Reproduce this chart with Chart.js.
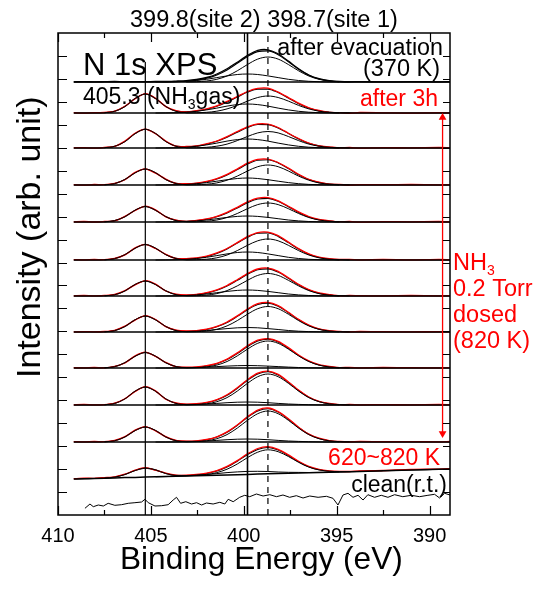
<!DOCTYPE html>
<html>
<head>
<meta charset="utf-8">
<script src="https://cdn.jsdelivr.net/npm/chart.js@4.4.1/dist/chart.umd.min.js"></script>
<style>
  html, body { margin: 0; padding: 0; background: #fff; }
  #wrap { width: 539px; height: 589px; }
</style>
</head>
<body>
<div id="wrap"><canvas id="xpsChart" width="539" height="589"></canvas></div>
<script>
// binding energy grid (eV) shared by the measured spectra and the fit envelope
const energies = [409.15, 408.6, 408.05, 407.5, 406.95, 406.4, 405.85, 405.3, 404.75, 404.2, 403.65,
  403.1, 402.55, 402, 401.45, 400.9, 400.35, 399.8, 399.25, 398.7, 398.15, 397.6, 397.05, 396.5,
  395.95, 395.4, 394.85, 394.3, 393.75, 392.5, 391, 389.5, 388.9];
const gasEnergies = [407.5, 406.95, 406.4, 405.85, 405.3, 404.75, 404.2, 403.65, 403.1];
const site2Energies = [404.75, 404.2, 403.65, 403.1, 402.55, 402, 401.45, 400.9, 400.35, 399.8,
  399.25, 398.7, 398.15, 397.6, 397.05, 396.5, 395.95, 395.4, 394.85];
const site1Energies = [403.1, 402.55, 402, 401.45, 400.9, 400.35, 399.8, 399.25, 398.7, 398.15,
  397.6, 397.05, 396.5, 395.95, 395.4, 394.85, 394.3];

const spectrumLabels = ['after evacuation (370 K)', 'after 3h', 'dose 2', 'dose 3', 'dose 4', 'dose 5',
  'dose 6', 'dose 7', 'dose 8', 'dose 9', 'dose 10', '620~820 K'];
// stacking offset (background level) of each spectrum, arb. unit
const backgroundLevels = [433, 402, 367, 330, 293, 255, 219, 183, 147, 110, 73, null];
// the 620~820 K spectrum sits on a sloped background
const tiltedBackground = [36.0, 36.3, 36.5, 36.8, 37.1, 37.4, 37.6, 37.9, 38.2, 38.4, 38.7, 39.0, 39.3,
  39.5, 39.8, 40.1, 40.3, 40.6, 40.9, 41.2, 41.4, 41.7, 42.0, 42.2, 42.5, 42.8, 43.1, 43.3, 43.6, 44.2,
  45.0, 45.7, 46.0];

// measured intensity above background, on the energies grid
const measured = [
  [0.2, 0.4, 0.1, 0.3, 0.5, 0.2, 0.4, 0.3, 0.6, 0.5, 0.9, 1.4, 2.5, 4.5, 8.0, 13.2, 19.8, 26.6, 31.6, 32.2, 28.2, 20.9, 13.2, 7.0, 3.3, 1.4, 0.5, 0.2, 0.4, 0.1, 0.3, 0.2, 0.4],
  [0.3, -0.2, 0.4, 0.5, 1.9, 6.8, 14.2, 19.3, 14.8, 6.4, 2.3, 1.0, 2.3, 4.2, 7.2, 11.6, 16.5, 21.5, 24.6, 24.8, 20.9, 15.4, 9.8, 5.2, 2.5, 0.6, 0.4, -0.3, 0.5, 0.2, -0.2, 0.3, 0.1],
  [0.2, 0.4, -0.2, 0.6, 1.6, 6.9, 14.8, 18.8, 14.3, 6.9, 1.8, 1.5, 2.1, 4.3, 7.0, 11.4, 16.5, 21.2, 24.1, 23.9, 20.5, 14.8, 9.5, 5.0, 2.0, 1.1, 0.1, 0.5, -0.1, 0.4, 0.1, 0.5, 0.2],
  [0.3, -0.1, 0.5, 0.4, 1.7, 5.3, 12.6, 16.2, 11.8, 5.9, 1.5, 1.3, 1.9, 3.6, 6.4, 10.6, 16.0, 21.8, 25.6, 25.9, 22.5, 16.9, 10.8, 5.6, 2.8, 0.8, 0.6, -0.2, 0.4, 0.3, 0.6, 0.2, 0.4],
  [0.1, 0.5, 0.0, 0.5, 1.2, 5.6, 11.5, 15.8, 12.1, 5.2, 1.9, 0.6, 1.6, 3.1, 5.7, 9.6, 14.7, 20.1, 23.8, 24.4, 21.2, 15.8, 10.1, 5.4, 2.5, 1.2, 0.3, 0.5, -0.1, 0.4, 0.2, 0.5, 0.1],
  [0.4, 0.1, 0.5, 0.3, 1.6, 5.1, 12.1, 15.6, 11.5, 5.7, 1.5, 1.4, 2.0, 3.9, 7.1, 11.5, 17.4, 23.3, 27.4, 27.8, 24.3, 17.9, 11.4, 6.1, 2.9, 1.3, 0.5, 0.6, 0.2, 0.5, 0.1, 0.6, 0.3],
  [0.2, 0.5, 0.1, 0.6, 1.5, 5.4, 11.2, 15.3, 11.9, 5.0, 1.8, 1.1, 1.7, 3.3, 6.2, 10.5, 16.3, 22.4, 27.0, 27.9, 24.6, 18.2, 11.6, 6.3, 3.0, 1.4, 0.2, 0.6, 0.3, 0.1, 0.5, 0.2, 0.4],
  [0.1, 0.4, 0.2, 0.5, 1.7, 5.8, 11.9, 16.3, 12.5, 5.3, 1.9, 1.0, 1.4, 2.9, 5.6, 10.0, 16.1, 23.0, 28.3, 29.6, 26.4, 19.8, 12.6, 6.9, 3.2, 1.3, 0.6, 0.2, 0.5, 0.3, 0.1, 0.4, 0.2],
  [0.3, 0.1, 0.5, 0.2, 1.6, 5.0, 12.1, 15.8, 11.6, 5.6, 1.3, 0.8, 1.1, 2.4, 4.7, 8.9, 15.1, 22.2, 27.8, 29.4, 26.6, 20.4, 12.9, 7.1, 3.3, 1.5, 0.4, 0.6, 0.2, 0.5, 0.3, 0.1, 0.4],
  [0.2, 0.6, 0.1, 0.4, 1.9, 6.3, 13.5, 18.4, 14.1, 5.8, 2.0, 0.9, 1.3, 2.6, 5.3, 10.2, 17.2, 25.3, 31.8, 33.9, 30.6, 23.1, 14.9, 8.0, 3.6, 1.5, 0.3, 0.6, 0.2, 0.4, 0.1, 0.5, 0.3],
  [0.4, 0.1, 0.5, 0.3, 1.5, 5.3, 11.8, 15.4, 11.2, 5.4, 1.6, 0.9, 1.2, 2.5, 5.2, 10.1, 17.0, 25.2, 31.9, 34.0, 30.4, 23.3, 14.8, 7.9, 3.8, 1.4, 0.5, 0.2, 0.6, 0.3, 0.4, 0.2, 0.5],
  [0.3, 0.5, 0.2, 0.6, 1.1, 3.4, 7.2, 9.4, 6.6, 3.4, 1.2, 0.8, 1.2, 2.4, 4.6, 8.5, 14.1, 20.6, 25.6, 27.1, 24.2, 18.4, 11.7, 6.4, 3.1, 1.4, 0.6, 0.2, 0.5, 0.3, 0.6, 0.2, 0.4]
];

// fitted components above background: NH3 gas (405.3), site 2 (399.8), site 1 (398.7)
const gasComponent = [
  [],
  [0.3, 1.7, 6.5, 14.5, 19, 14.5, 6.5, 1.7, 0.3],
  [0.3, 1.7, 6.4, 14.4, 18.8, 14.5, 6.5, 1.7, 0.3],
  [0.2, 1.4, 5.5, 12.2, 16, 12.2, 5.5, 1.4, 0.2],
  [0.2, 1.4, 5.3, 11.8, 15.5, 11.8, 5.3, 1.4, 0.2],
  [0.2, 1.4, 5.3, 11.8, 15.5, 11.8, 5.3, 1.4, 0.2],
  [0.2, 1.3, 5.1, 11.5, 15, 11.5, 5.1, 1.3, 0.2],
  [0.2, 1.4, 5.5, 12.2, 16, 12.2, 5.5, 1.4, 0.2],
  [0.2, 1.4, 5.3, 11.8, 15.5, 11.8, 5.3, 1.4, 0.2],
  [0.2, 1.6, 6.1, 13.8, 18, 13.8, 6.1, 1.6, 0.2],
  [0.2, 1.3, 5.1, 11.5, 15, 11.5, 5.1, 1.3, 0.2],
  [0.1, 0.8, 3.1, 6.9, 9, 6.9, 3.1, 0.8, 0.1]
];
const site2Component = [
  [0, 0.1, 0.3, 0.7, 1.5, 2.7, 4.4, 6.1, 7.5, 8, 7.5, 6.1, 4.4, 2.7, 1.5, 0.7, 0.3, 0.1, 0],
  [0, 0.1, 0.3, 0.8, 1.7, 3.1, 4.9, 6.9, 8.4, 9, 8.4, 6.9, 4.9, 3.1, 1.7, 0.8, 0.3, 0.1, 0],
  [0, 0.1, 0.3, 0.8, 1.7, 3.1, 4.9, 6.9, 8.4, 9, 8.4, 6.9, 4.9, 3.1, 1.7, 0.8, 0.3, 0.1, 0],
  [0, 0.1, 0.3, 0.6, 1.3, 2.4, 3.8, 5.3, 6.5, 7, 6.5, 5.3, 3.8, 2.4, 1.3, 0.6, 0.3, 0.1, 0],
  [0, 0.1, 0.2, 0.5, 1.1, 2, 3.3, 4.6, 5.6, 6, 5.6, 4.6, 3.3, 2, 1.1, 0.5, 0.2, 0.1, 0],
  [0, 0.1, 0.3, 0.7, 1.5, 2.7, 4.4, 6.1, 7.5, 8, 7.5, 6.1, 4.4, 2.7, 1.5, 0.7, 0.3, 0.1, 0],
  [0, 0.1, 0.2, 0.5, 1.1, 2, 3.3, 4.6, 5.6, 6, 5.6, 4.6, 3.3, 2, 1.1, 0.5, 0.2, 0.1, 0],
  [0, 0.1, 0.2, 0.4, 0.8, 1.5, 2.5, 3.4, 4.2, 4.5, 4.2, 3.4, 2.5, 1.5, 0.8, 0.4, 0.2, 0.1, 0],
  [0, 0, 0.1, 0.2, 0.5, 0.9, 1.4, 1.9, 2.3, 2.5, 2.3, 1.9, 1.4, 0.9, 0.5, 0.2, 0.1, 0, 0],
  [0, 0, 0.1, 0.3, 0.6, 1, 1.6, 2.3, 2.8, 3, 2.8, 2.3, 1.6, 1, 0.6, 0.3, 0.1, 0, 0],
  [0, 0, 0.1, 0.3, 0.6, 1, 1.6, 2.3, 2.8, 3, 2.8, 2.3, 1.6, 1, 0.6, 0.3, 0.1, 0, 0],
  [0, 0, 0.1, 0.3, 0.6, 1, 1.6, 2.3, 2.8, 3, 2.8, 2.3, 1.6, 1, 0.6, 0.3, 0.1, 0, 0]
];
const site1Component = [
  [0.1, 0.3, 1, 2.7, 6, 11.2, 17.5, 22.9, 25, 22.9, 17.5, 11.2, 6, 2.7, 1, 0.3, 0.1],
  [0.1, 0.2, 0.7, 1.8, 4.1, 7.6, 11.9, 15.5, 17, 15.5, 11.9, 7.6, 4.1, 1.8, 0.7, 0.2, 0.1],
  [0.1, 0.2, 0.7, 1.8, 3.9, 7.4, 11.5, 15.1, 16.5, 15.1, 11.5, 7.4, 3.9, 1.8, 0.7, 0.2, 0.1],
  [0.1, 0.3, 0.8, 2.1, 4.8, 8.9, 14, 18.3, 20, 18.3, 14, 8.9, 4.8, 2.1, 0.8, 0.3, 0.1],
  [0.1, 0.2, 0.8, 2, 4.5, 8.5, 13.3, 17.4, 19, 17.4, 13.3, 8.5, 4.5, 2, 0.8, 0.2, 0.1],
  [0.1, 0.3, 0.8, 2.2, 5, 9.4, 14.7, 19.2, 21, 19.2, 14.7, 9.4, 5, 2.2, 0.8, 0.3, 0.1],
  [0.1, 0.3, 0.9, 2.4, 5.4, 10.1, 15.7, 20.6, 22.5, 20.6, 15.7, 10.1, 5.4, 2.4, 0.9, 0.3, 0.1],
  [0.1, 0.3, 1, 2.7, 6.1, 11.4, 17.8, 23.3, 25.5, 23.3, 17.8, 11.4, 6.1, 2.7, 1, 0.3, 0.1],
  [0.1, 0.3, 1.1, 2.9, 6.5, 12.1, 18.9, 24.7, 27, 24.7, 18.9, 12.1, 6.5, 2.9, 1.1, 0.3, 0.1],
  [0.1, 0.4, 1.2, 3.3, 7.4, 13.9, 21.7, 28.3, 31, 28.3, 21.7, 13.9, 7.4, 3.3, 1.2, 0.4, 0.1],
  [0.1, 0.4, 1.2, 3.3, 7.4, 13.9, 21.7, 28.3, 31, 28.3, 21.7, 13.9, 7.4, 3.3, 1.2, 0.4, 0.1],
  [0.1, 0.3, 1, 2.6, 5.7, 10.7, 16.8, 21.9, 24, 21.9, 16.8, 10.7, 5.7, 2.6, 1, 0.3, 0.1]
];

// clean surface at room temperature (absolute level)
const cleanEnergies = [408.55, 408.28, 408.1, 407.83, 407.56, 407.3, 406.94, 406.58, 406.22, 405.86,
  405.5, 405.32, 405.14, 404.78, 404.42, 404.07, 403.8, 403.62, 403.4, 403.12, 402.81, 402.54, 402.27,
  402.01, 401.65, 401.29, 401.02, 400.84, 400.57, 400.22, 399.95, 399.68, 399.32, 398.96, 398.6, 398.24,
  397.89, 397.53, 397.17, 396.81, 396.45, 396, 395.55, 395.2, 394.93, 394.66, 394.39, 394.12, 393.85,
  393.58, 393.32, 392.96, 392.6, 392.24, 391.88, 391.44, 390.98, 390.54, 390.09, 389.73, 389.46, 389.19, 388.9];
const cleanCounts = [6.7, 11, 8.3, 10, 9, 11.7, 9.7, 10.3, 11.7, 12.3, 13, 15.7, 12.3, 9, 9.3, 10.3, 15,
  17.7, 11.7, 13.3, 11, 12.3, 10, 12, 11, 12.7, 11, 15.7, 13.3, 17.7, 19.7, 18.3, 21, 19, 20.3, 18.3, 20,
  17.7, 19.3, 17, 19, 17.7, 18.7, 16.7, 10, 20, 21.7, 17.7, 19.7, 15, 20.3, 17.7, 19.7, 17.7, 20.3, 18.3,
  19.7, 18.3, 19.7, 20.7, 17, 21.7, 20];

// reference peak positions and how far up each marker line reaches
const markerEnergies = [405.3, 399.8, 398.7];
const markerTops = [453, 482, 482];
// dosing-sequence arrow
const arrowEnergy = 389.3;
const arrowEnds = [397.5, 81.5];

const xTickValues = [390, 395, 400, 405, 410];
const xMinorTickValues = [392.5, 397.5, 402.5, 407.5];
const yTickStep = 22.95;

const FONT = '"Liberation Sans", Arial, Helvetica, sans-serif';
const RED = 'rgb(255,0,0)';
Chart.defaults.font.family = FONT;

const datasets = [];

markerEnergies.forEach((e, i) => {
  datasets.push({
    label: 'marker ' + e,
    data: [{ x: e, y: 0 }, { x: e, y: markerTops[i] }],
    borderColor: '#000',
    borderWidth: i === 1 ? 1.6 : 1.2,
    borderDash: i === 2 ? [6, 5] : [],
    pointRadius: 0,
    order: 0
  });
});

spectrumLabels.forEach((label, t) => {
  const bgAt = e => backgroundLevels[t] === null ? tiltedBackground[energies.indexOf(e)] : backgroundLevels[t];
  const lineColor = t === 0 ? '#000' : RED;

  datasets.push({
    label: label + ' background',
    data: energies.map(e => ({ x: e, y: bgAt(e) })),
    borderColor: '#000', borderWidth: 1.5, pointRadius: 0, order: 1
  });

  // fit envelope = background + all components
  const envelope = energies.map(e => {
    const g = gasEnergies.indexOf(e), s2 = site2Energies.indexOf(e), s1 = site1Energies.indexOf(e);
    let v = bgAt(e);
    if (g >= 0 && gasComponent[t].length) v += gasComponent[t][g];
    if (s2 >= 0) v += site2Component[t][s2];
    if (s1 >= 0) v += site1Component[t][s1];
    return { x: e, y: v };
  });
  datasets.push({
    label: label + ' fit',
    data: envelope,
    borderColor: '#000', borderWidth: 1.1, pointRadius: 0,
    cubicInterpolationMode: 'monotone', order: 3
  });

  datasets.push({
    label: label,
    data: energies.map((e, i) => ({ x: e, y: bgAt(e) + measured[t][i] })),
    borderColor: lineColor, borderWidth: 1.3, pointRadius: 0, tension: 0.25, order: 2
  });

  const comps = [[gasEnergies, gasComponent[t]], [site2Energies, site2Component[t]], [site1Energies, site1Component[t]]];
  comps.forEach(([xs, ys]) => {
    if (!ys.length) return;
    datasets.push({
      label: label + ' component',
      data: xs.map((e, k) => ({ x: e, y: bgAt(e) + ys[k] })),
      borderColor: '#000', borderWidth: 1, pointRadius: 0,
      cubicInterpolationMode: 'monotone', order: 1
    });
  });
});

datasets.push({
  label: 'clean(r.t.)',
  data: cleanEnergies.map((e, i) => ({ x: e, y: cleanCounts[i] })),
  borderColor: '#000', borderWidth: 1, pointRadius: 0, tension: 0, order: 1
});

datasets.push({
  label: 'dosing arrow',
  data: arrowEnds.map(v => ({ x: arrowEnergy, y: v })),
  borderColor: RED, borderWidth: 1.3,
  pointStyle: 'triangle', pointRadius: 4.5, pointRotation: [0, 180],
  pointBackgroundColor: RED, pointBorderColor: RED, pointBorderWidth: 0,
  order: 0
});

// frame, inward ticks and the annotation texts
const frameAndLabels = {
  id: 'frameAndLabels',
  afterDatasetsDraw(chart) {
    const { ctx, chartArea: { left, right, top, bottom }, scales: { x, y } } = chart;
    ctx.save();
    ctx.strokeStyle = '#000';
    ctx.lineWidth = 1.2;
    ctx.beginPath();
    xTickValues.concat(xMinorTickValues).forEach(v => {
      const px = Math.round(x.getPixelForValue(v)) + 0.5;
      const len = xTickValues.includes(v) ? 9 : 5;
      ctx.moveTo(px, bottom); ctx.lineTo(px, bottom - len);
      ctx.moveTo(px, top); ctx.lineTo(px, top + len);
    });
    y.ticks.forEach(t => {
      if (t.value <= y.min || t.value >= y.max - 1) return;
      const py = Math.round(y.getPixelForValue(t.value)) + 0.5;
      ctx.moveTo(left, py); ctx.lineTo(left + 9, py);
      ctx.moveTo(right, py); ctx.lineTo(right - 7, py);
    });
    ctx.stroke();
    ctx.lineWidth = 1.5;
    ctx.strokeRect(left, top, right - left, bottom - top);

    const text = (str, px, py, size, align, color) => {
      ctx.font = size + 'px ' + FONT;
      ctx.fillStyle = color || '#000';
      ctx.textAlign = align;
      ctx.textBaseline = 'alphabetic';
      ctx.fillText(str, px, py);
    };
    // text with a subscript part: parts = [[string, isSub], ...]
    const subText = (parts, px, py, size, color) => {
      let cx = px;
      parts.forEach(([str, sub]) => {
        const s = sub ? Math.round(size * 0.6) : size;
        ctx.font = s + 'px ' + FONT;
        ctx.fillStyle = color || '#000';
        ctx.textAlign = 'left';
        ctx.textBaseline = 'alphabetic';
        ctx.fillText(str, cx, py + (sub ? size * 0.2 : 0));
        cx += ctx.measureText(str).width;
      });
    };

    text('399.8(site 2) 398.7(site 1)', 130, 27, 23.5, 'left');
    text('N 1s XPS', 83, 75, 31, 'left');
    text('after evacuation', 443, 55, 23.3, 'right');
    text('(370 K)', 440, 76, 23.5, 'right');
    subText([['405.3 (NH', false], ['3', true], ['gas)', false]], 83, 104, 23);
    text('after 3h', 438, 106, 23, 'right', RED);
    subText([['NH', false], ['3', true]], 453, 270, 23.5, RED);
    text('0.2 Torr', 453, 296, 23.5, 'left', RED);
    text('dosed', 453, 322, 23.5, 'left', RED);
    text('(820 K)', 453, 348, 23.5, 'left', RED);
    text('620~820 K', 440, 465, 23, 'right', RED);
    text('clean(r.t.)', 447, 492, 23, 'right');

    text('Binding Energy (eV)', 120, 569, 31.6, 'left');
    ctx.translate(40, 378);
    ctx.rotate(-Math.PI / 2);
    text('Intensity (arb. unit)', 0, 0, 34, 'left');
    ctx.restore();
  }
};

new Chart(document.getElementById('xpsChart'), {
  type: 'line',
  data: { datasets },
  options: {
    responsive: false,
    devicePixelRatio: 1,
    animation: false,
    events: [],
    layout: { padding: { left: 0, right: 89, top: 33, bottom: 0 } },
    plugins: { legend: { display: false }, tooltip: { enabled: false } },
    scales: {
      x: {
        type: 'linear',
        reverse: true,
        min: 388.9,
        max: 410,
        grid: { display: false, drawTicks: false },
        border: { display: false },
        afterBuildTicks: scale => { scale.ticks = xTickValues.map(v => ({ value: v })); },
        afterFit: scale => { scale.height = 74; },
        ticks: {
          color: '#000',
          font: { size: 20 },
          padding: 9,
          autoSkip: false,
          maxRotation: 0,
          callback: v => String(v)
        }
      },
      y: {
        type: 'linear',
        min: 0,
        max: 482,
        grid: { display: false, drawTicks: false },
        border: { display: false },
        afterFit: scale => { scale.width = 58; },
        ticks: { stepSize: yTickStep, display: false }
      }
    }
  },
  plugins: [frameAndLabels]
});
</script>
</body>
</html>
